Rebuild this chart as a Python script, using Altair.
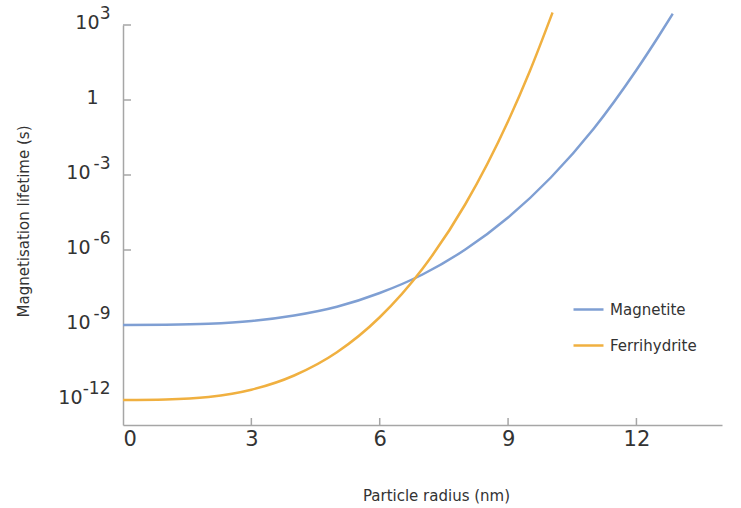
import altair as alt
import pandas as pd

# Particle radius (nm) and log10 of magnetisation lifetime (s)
mag_r = [0, 1, 2, 3, 4, 5, 6, 7, 8, 9, 10, 11, 12, 12.5, 12.85]
mag_log = [-9.0, -8.99, -8.95, -8.84, -8.62, -8.27, -7.72, -6.98, -5.98, -4.7, -3.1, -1.15, 1.2, 2.5, 3.45]
fer_r = [0, 1, 2, 3, 4, 5, 6, 7, 8, 9, 9.5, 10.04]
fer_log = [-12.0, -11.98, -11.88, -11.59, -11.02, -10.09, -8.69, -6.75, -4.17, -0.85, 1.12, 3.5]

series = ["Magnetite", "Ferrihydrite"]
colors = ["#7f9fd3", "#f0b040"]

x_ticks = [0, 3, 6, 9, 12]
y_ticks = [-12, -9, -6, -3, 0, 3]
y_tick_base = ["10", "10", "10", "10", "1", "10"]
y_tick_exp = ["-12", "-9", "-6", "-3", "", "3"]

FONT = "DejaVu Sans"
AXIS_COLOR = "#a6a6a6"
TEXT_COLOR = "#333333"

df = pd.DataFrame({
    "r": mag_r + fer_r,
    "logt": mag_log + fer_log,
    "mineral": [series[0]] * len(mag_r) + [series[1]] * len(fer_r),
})


def expr_for(labels):
    return " : ".join(
        f"datum.value == {v} ? '{t}'" for v, t in zip(y_ticks, labels)
    ) + " : ''"


# horizontal gap between the "10" and the axis, depending on exponent length
base_padding = {
    "condition": [
        {"test": "datum.value == 3", "value": 24},
        {"test": "datum.value == 0", "value": 25},
        {"test": "datum.value == -12", "value": 41},
    ],
    "value": 33,
}

xs = alt.Scale(domain=[0, 14], nice=False, zero=False)
ys = alt.Scale(domain=[-13, 3], nice=False, zero=False)

lines = alt.Chart(df).mark_line(strokeWidth=2.5, interpolate="monotone", clip=False).encode(
    x=alt.X("r:Q", scale=xs, axis=alt.Axis(
        values=x_ticks, ticks=False, tickSize=0, grid=False, labelPadding=3,
        labelFontSize=21, labelFont=FONT, labelColor=TEXT_COLOR,
        domainColor=AXIS_COLOR, domainWidth=1.5,
        title="Particle radius (nm)", titleFont=FONT, titleFontSize=15,
        titleFontWeight="normal", titleColor=TEXT_COLOR,
        titleX=313, titleY=70, titleBaseline="middle", titleAlign="center")),
    y=alt.Y("logt:Q", scale=ys, axis=alt.Axis(
        orient="left", offset=0,
        values=y_ticks, ticks=False, tickSize=0, grid=False, domain=False,
        labelExpr=expr_for(y_tick_exp), labelAlign="right", labelPadding=13,
        labelOffset=-12,
        labelFontSize=17, labelFont=FONT, labelColor=TEXT_COLOR,
        title="Magnetisation lifetime (s)", titleFont=FONT, titleFontSize=15,
        titleFontWeight="normal", titleColor=TEXT_COLOR,
        titleX=-100, titleY=196, titleBaseline="middle", titleAlign="center", titleAngle=270)),
    color=alt.Color("mineral:N", scale=alt.Scale(domain=series, range=colors),
                    legend=alt.Legend(
                        title=None, orient="none", legendX=449, legendY=268,
                        symbolType="stroke", symbolSize=900, symbolStrokeWidth=2.5,
                        labelFont=FONT, labelFontSize=15, labelColor=TEXT_COLOR,
                        labelOffset=5, rowPadding=11, padding=0)),
)

ytick_df = pd.DataFrame({"v": y_ticks})
xtick_df = pd.DataFrame({"v": x_ticks[1:]})

ytick_rules = alt.Chart(ytick_df).mark_rule(color=AXIS_COLOR, strokeWidth=1.5).encode(
    y=alt.Y("v:Q", scale=ys, axis=alt.Axis(
        orient="left", offset=0,
        values=y_ticks, ticks=False, tickSize=0, grid=False,
        labelExpr=expr_for(y_tick_base), labelAlign="right", labelPadding=base_padding,
        labelOffset=-3,
        labelFontSize=19, labelFont=FONT, labelColor=TEXT_COLOR,
        domainColor=AXIS_COLOR, domainWidth=1.5, title=None)),
    x=alt.value(0), x2=alt.value(8))
xtick_rules = alt.Chart(xtick_df).mark_rule(color=AXIS_COLOR, strokeWidth=1.5).encode(
    x=alt.X("v:Q", scale=xs), y=alt.value(400), y2=alt.value(393))

chart = alt.layer(ytick_rules, xtick_rules, lines).resolve_axis(y="independent").properties(
    width=599, height=400,
    background="white",
    autosize=alt.AutoSizeParams(type="none"),
    padding={"left": 123, "top": 25, "right": 19, "bottom": 83},
).configure_view(stroke=None)

chart.save("out.html", embed_options={"renderer": "svg", "actions": False})
